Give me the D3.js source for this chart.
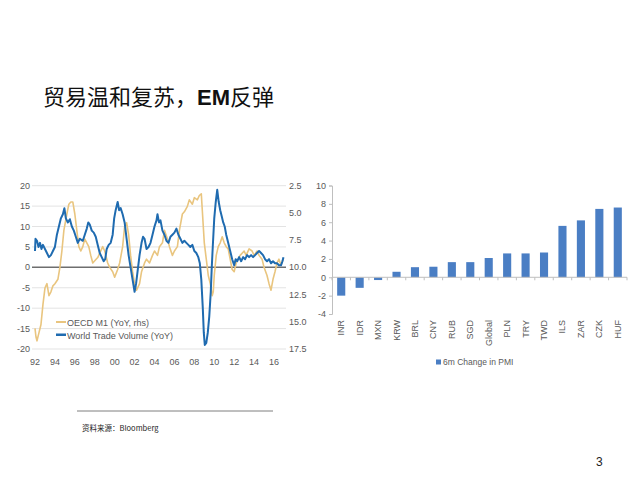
<!DOCTYPE html>
<html><head><meta charset="utf-8">
<script src="https://cdn.jsdelivr.net/npm/d3@7"></script>
<style>
body{margin:0;background:#fff;}
svg{display:block;font-family:"Liberation Sans",Arial,sans-serif;}
</style></head>
<body>
<svg id="c" width="640" height="495"></svg>
<script>
// ---- Left chart data ----
const leftTicks = [20,15,10,5,0,-5,-10,-15,-20];
const rightTicks = [2.5,5.0,7.5,10.0,12.5,15.0,17.5];
const yearTicks = [1992,1994,1996,1998,2000,2002,2004,2006,2008,2010,2012,2014,2016];

// World Trade Volume (YoY), left axis
const tradeDates = [1992.0,1992.05,1992.2,1992.35,1992.5,1992.65,1992.8,1993.0,1993.2,1993.4,1993.6,1993.8,1994.0,1994.2,1994.4,1994.6,1994.8,1994.95,1995.1,1995.3,1995.5,1995.7,1995.9,1996.1,1996.3,1996.5,1996.8,1997.0,1997.2,1997.35,1997.5,1997.7,1997.9,1998.1,1998.3,1998.5,1998.7,1998.9,1999.05,1999.2,1999.4,1999.6,1999.8,1999.95,2000.1,2000.3,2000.45,2000.6,2000.8,2001.0,2001.2,2001.4,2001.6,2001.8,2002.0,2002.15,2002.3,2002.5,2002.7,2002.85,2003.0,2003.2,2003.4,2003.6,2003.8,2004.0,2004.2,2004.3,2004.45,2004.6,2004.8,2005.0,2005.2,2005.4,2005.6,2005.8,2006.0,2006.2,2006.4,2006.6,2006.8,2007.0,2007.2,2007.4,2007.6,2007.8,2008.0,2008.2,2008.4,2008.55,2008.7,2008.85,2008.95,2009.05,2009.2,2009.35,2009.5,2009.65,2009.75,2009.85,2010.0,2010.15,2010.3,2010.45,2010.6,2010.75,2010.9,2011.05,2011.2,2011.4,2011.6,2011.8,2012.0,2012.15,2012.3,2012.5,2012.7,2012.9,2013.1,2013.3,2013.5,2013.7,2013.9,2014.1,2014.3,2014.5,2014.7,2014.9,2015.1,2015.3,2015.5,2015.7,2015.9,2016.1,2016.3,2016.5,2016.7,2016.85,2016.95];
const tradeValues = [4,7,6.5,5,6,4.5,5.5,4.5,3.5,2.5,3,4,5,8,10,12,13,14.5,12,11,11.8,10,9,7.5,6,7,6.5,8,9.5,11,10.5,9,8.5,7.5,5.5,3.5,2.5,1.5,2,4.5,5.5,6,8,12,14,16,14,14.5,13,11,7,3,0,-3,-6,-4,-1,3,6,7.5,7,4.5,5,6,8,10,11.5,13,11,11.5,9,8,6.5,6,7.5,8,8.5,9.5,8,7,6,6.5,6,5.5,5,5.5,4,3.5,2.5,1,-3,-10,-16,-19,-18.5,-16,-12,-6,0,5,12,16,19,16,14,12.5,11,10,8,6,4,2,0.5,2,1.5,2.5,1.5,2.5,2,3,2.5,3,2.5,3,3.5,4,3.5,3,2,1.5,2,1,1.5,1,1,0.5,0.5,1.5,2.5];

// OECD M1 (YoY, rhs), right (inverted) axis
const m1Dates = [1992.0,1992.1,1992.2,1992.4,1992.6,1992.8,1993.0,1993.2,1993.4,1993.6,1993.8,1994.0,1994.3,1994.5,1994.7,1994.9,1995.2,1995.4,1995.6,1995.8,1996.0,1996.2,1996.4,1996.6,1996.8,1997.0,1997.2,1997.4,1997.6,1997.8,1998.0,1998.3,1998.5,1998.8,1999.0,1999.3,1999.5,1999.8,2000.0,2000.3,2000.5,2000.8,2001.0,2001.2,2001.4,2001.6,2001.8,2002.0,2002.2,2002.5,2002.7,2003.0,2003.2,2003.5,2003.8,2004.0,2004.3,2004.5,2004.8,2005.0,2005.3,2005.5,2005.8,2006.0,2006.3,2006.5,2006.8,2007.0,2007.3,2007.5,2007.8,2008.0,2008.3,2008.5,2008.7,2008.8,2009.0,2009.2,2009.4,2009.6,2009.8,2009.9,2010.0,2010.2,2010.4,2010.6,2010.8,2011.0,2011.2,2011.4,2011.6,2011.8,2012.0,2012.2,2012.4,2012.6,2012.8,2013.0,2013.2,2013.5,2013.8,2014.0,2014.3,2014.5,2014.8,2015.0,2015.3,2015.5,2015.7,2015.9,2016.1,2016.3,2016.5,2016.7,2016.9];
const m1Values = [15.6,16.4,16.75,16.0,15.25,13.4,11.9,11.5,12.6,12.25,11.7,11.5,11.1,10.0,8.5,6.6,5.1,4.2,4.0,4.0,5.1,6.6,8.1,8.5,8.1,7.4,7.75,8.1,8.9,9.6,9.4,9.1,8.7,8.1,8.5,9.6,10.0,10.4,10.9,10.2,9.6,8.1,6.25,5.9,7.0,8.9,10.4,11.5,12.1,11.5,10.4,9.6,9.25,9.6,8.9,8.5,8.9,8.1,7.75,6.6,7.4,8.1,8.9,8.5,8.1,6.6,5.1,4.9,4.4,3.8,4.2,3.6,3.8,3.4,3.25,4.75,7.75,9.25,10.75,11.5,12.6,12.25,10.75,8.9,8.1,7.75,7.2,7.75,8.1,8.3,9.25,10.2,10.4,9.6,9.25,8.9,8.7,8.5,8.9,8.3,8.5,8.9,8.5,8.9,9.25,10.0,10.75,11.5,12.1,11.1,10.4,9.6,9.25,9.8,9.25];

// ---- Right chart data ----
const pmiCategories = ["INR","IDR","MXN","KRW","BRL","CNY","RUB","SGD","Global","PLN","TRY","TWD","ILS","ZAR","CZK","HUF"];
const pmiValues = [-2.0,-1.15,-0.3,0.6,1.1,1.15,1.65,1.65,2.1,2.6,2.6,2.7,5.6,6.2,7.45,7.6];
const pmiTicks = [10,8,6,4,2,0,-2,-4];

const svg = d3.select("#c");
const grey = "#595959";
const blue = "#1f6bb0";
const gold = "#e9c57f";

// Title
const title = svg.append("text").attr("x",43).attr("y",105)
  .attr("font-family","'Noto Sans CJK SC',sans-serif").attr("font-size",22).attr("fill","#111");
title.append("tspan").text("贸易温和复苏，");
title.append("tspan").attr("font-family","'Liberation Sans',Arial,sans-serif").attr("font-weight","bold").text("EM");
title.append("tspan").text("反弹");

// ---- Left chart ----
const xL = d3.scaleLinear().domain([1992,2016]).range([35,274]);
const yL = d3.scaleLinear().domain([-20,20]).range([349,185.7]);
const yR = d3.scaleLinear().domain([2.5,17.5]).range([185.7,349]);

const gL = svg.append("g");
gL.selectAll("line.grid").data(leftTicks).join("line")
  .attr("x1",32).attr("x2",286).attr("y1",d=>yL(d)).attr("y2",d=>yL(d))
  .attr("stroke",d=>d===0?"#6e6e6e":"#e3e3e3").attr("stroke-width",d=>d===0?1.5:1);

gL.selectAll("text.yl").data(leftTicks).join("text")
  .attr("x",30).attr("y",d=>yL(d)+3).attr("text-anchor","end")
  .attr("font-size",9).attr("fill",grey).text(d=>d);
gL.selectAll("text.yr").data(rightTicks).join("text")
  .attr("x",289).attr("y",d=>yR(d)+3).attr("text-anchor","start")
  .attr("font-size",9).attr("fill",grey).text(d=>d.toFixed(1));
gL.selectAll("text.xl").data(yearTicks).join("text")
  .attr("x",d=>xL(d)).attr("y",365).attr("text-anchor","middle")
  .attr("font-size",9).attr("fill",grey).text(d=>String(d).slice(2));

const lineT = d3.line().x((d,i)=>xL(tradeDates[i])).y(d=>yL(d));
const lineM = d3.line().x((d,i)=>xL(m1Dates[i])).y(d=>yR(d));
gL.append("path").attr("d",lineM(m1Values)).attr("fill","none").attr("stroke",gold).attr("stroke-width",1.6).attr("stroke-linejoin","round");
gL.append("path").attr("d",lineT(tradeValues)).attr("fill","none").attr("stroke",blue).attr("stroke-width",2).attr("stroke-linejoin","round");

// legend
const legL = [{t:"OECD M1 (YoY, rhs)",c:gold,y:323},{t:"World Trade Volume (YoY)",c:blue,y:335.5}];
legL.forEach(l=>{
  gL.append("rect").attr("x",56).attr("y",l.y-2).attr("width",10).attr("height",l.c===blue?2.5:2).attr("fill",l.c);
  gL.append("text").attr("x",67).attr("y",l.y+3).attr("font-size",9).attr("fill",grey).text(l.t);
});

// ---- Right chart ----
const xB = d3.scaleBand().domain(pmiCategories).range([332,627]).paddingInner(0.56).paddingOuter(0.28);
const yB = d3.scaleLinear().domain([-4,10]).range([314,185.5]);
const gR = svg.append("g");
gR.selectAll("rect.bar").data(pmiValues).join("rect")
  .attr("x",(d,i)=>xB(pmiCategories[i])).attr("width",xB.bandwidth())
  .attr("y",d=>yB(Math.max(0,d))).attr("height",d=>Math.abs(yB(d)-yB(0)))
  .attr("fill","#4a7ec4");

const yAxisB = d3.axisLeft(yB).tickValues(pmiTicks).tickSize(3).tickFormat(d=>d);
const ga = gR.append("g").attr("transform","translate(332,0)").call(yAxisB);
ga.select(".domain").attr("stroke","#bfbfbf");
ga.selectAll(".tick line").attr("stroke","#bfbfbf");
ga.selectAll(".tick text").attr("font-size",9).attr("fill",grey).attr("font-family","'Liberation Sans',Arial,sans-serif").attr("x",-6);

gR.append("line").attr("x1",332).attr("x2",627).attr("y1",yB(0)).attr("y2",yB(0)).attr("stroke","#bfbfbf");
const step = xB.step();
const bounds = d3.range(pmiCategories.length+1).map(i=>332+i*step);
gR.selectAll("line.xt").data(bounds).join("line")
  .attr("x1",d=>d).attr("x2",d=>d).attr("y1",yB(0)).attr("y2",yB(0)+3).attr("stroke","#bfbfbf");

gR.selectAll("text.cat").data(pmiCategories).join("text")
  .attr("transform",d=>`translate(${xB(d)+xB.bandwidth()/2+3},320) rotate(-90)`)
  .attr("text-anchor","end").attr("font-size",9).attr("fill",grey).text(d=>d);

gR.append("rect").attr("x",436).attr("y",359.5).attr("width",5).attr("height",5).attr("fill","#4a7ec4");
gR.append("text").attr("x",443).attr("y",365).attr("font-size",8.5).attr("fill",grey).text("6m Change in PMI");

// Source
svg.append("line").attr("x1",77).attr("x2",273).attr("y1",411).attr("y2",411).attr("stroke","#7f7f7f").attr("stroke-width",1);
svg.append("text").attr("x",82).attr("y",431).attr("font-size",7.5).attr("fill","#222")
  .attr("font-family","'Noto Sans CJK SC','Liberation Sans',sans-serif").text("资料来源：Bloomberg");

svg.append("text").attr("x",596).attr("y",466).attr("font-size",12).attr("fill","#222").text("3");
</script>
</body></html>
